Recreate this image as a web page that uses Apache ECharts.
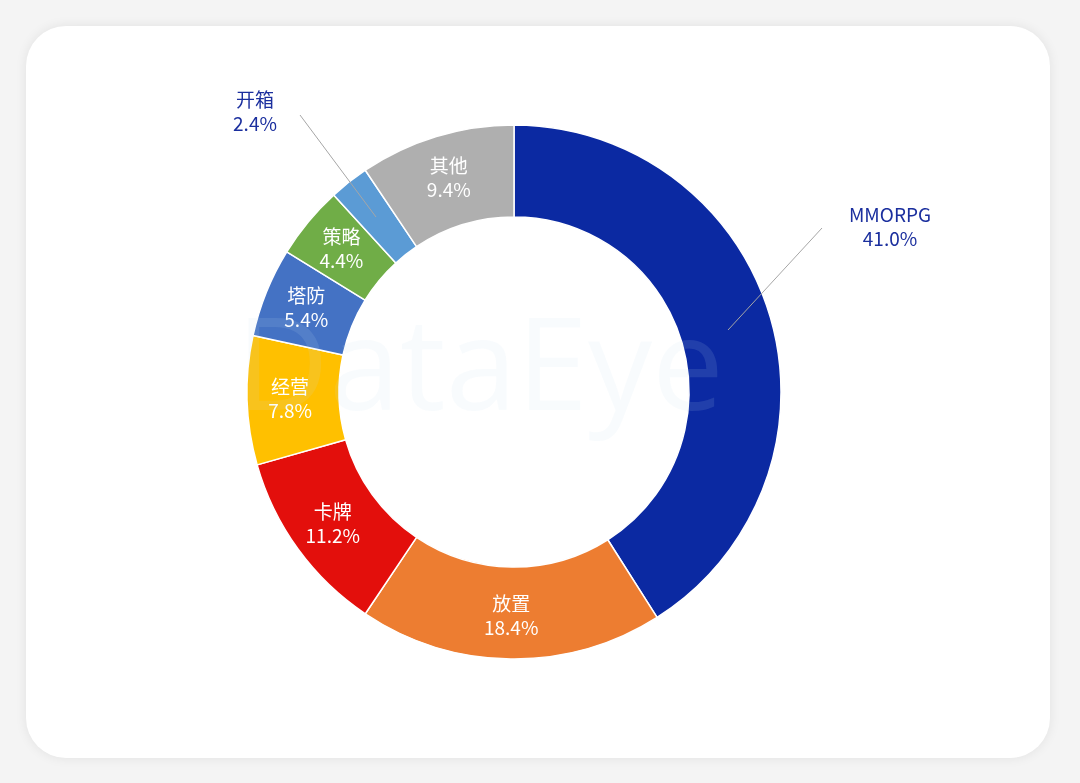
<!DOCTYPE html>
<html>
<head>
<meta charset="utf-8">
<script src="https://cdn.jsdelivr.net/npm/echarts@6/dist/echarts.min.js"></script>
<style>
html,body{margin:0;padding:0;background:#f4f4f4;}
#card{position:absolute;left:26px;top:26px;width:1024px;height:732px;background:#fff;border-radius:40px;box-shadow:0 0 12px rgba(0,0,0,0.08);}
#chart{position:absolute;left:0;top:0;width:1080px;height:783px;}
</style>
</head>
<body>
<div id="card"></div>
<div id="chart"></div>
<script>
/* 游戏类型占比 */
var names = ['MMORPG', '放置', '卡牌', '经营', '塔防', '策略', '开箱', '其他'];
var values = [41.0, 18.4, 11.2, 7.8, 5.4, 4.4, 2.4, 9.4];
var colors = ['#0b29a2', '#ed7d31', '#e30f0c', '#ffc000', '#4472c4', '#70ad47', '#5b9bd5', '#afafaf'];

var chart = echarts.init(document.getElementById('chart'));
var data = names.map(function (n, i) {
	var item = { name: n, value: values[i], itemStyle: { color: colors[i] } };
	if (n == 'MMORPG' || n == '开箱') {
		item.label = { position: 'outside', color: '#1b2f9e' };
	}
	return item;
});
chart.setOption({
	backgroundColor: 'transparent',
	graphic: [{
		type: 'text', left: 236, top: 310, z: 100,
		style: { text: 'DataEye', fontSize: 128, fontFamily: 'Open Sans', fill: 'rgba(200,220,240,0.12)' }
	}, {
		type: 'line', z: 100, shape: { x1: 728, y1: 330, x2: 822, y2: 228 },
		style: { stroke: '#a6a6a6', lineWidth: 1 }
	}, {
		type: 'line', z: 100, shape: { x1: 376, y1: 217, x2: 300, y2: 115 },
		style: { stroke: '#a6a6a6', lineWidth: 1 }
	}],
	series: [{
		type: 'pie',
		center: [514, 392],
		radius: [175, 267],
		startAngle: 90,
		clockwise: true,
		avoidLabelOverlap: false,
		itemStyle: { borderColor: '#fff', borderWidth: 1.5 },
		label: {
			show: true,
			position: 'inside',
			color: '#fff',
			fontSize: 19,
			lineHeight: 24,
			fontFamily: 'Noto Sans CJK SC',
			formatter: function (p) { return p.name + '\n' + p.value.toFixed(1) + '%'; }
		},
		labelLine: { show: false },
		labelLayout: function (p) {
			if (p.dataIndex == 0) return { x: 890, y: 227, align: 'center' };
			if (p.dataIndex == 6) return { x: 255, y: 112, align: 'center' };
		},
		data: data
	}]
});
</script>
</body>
</html>
